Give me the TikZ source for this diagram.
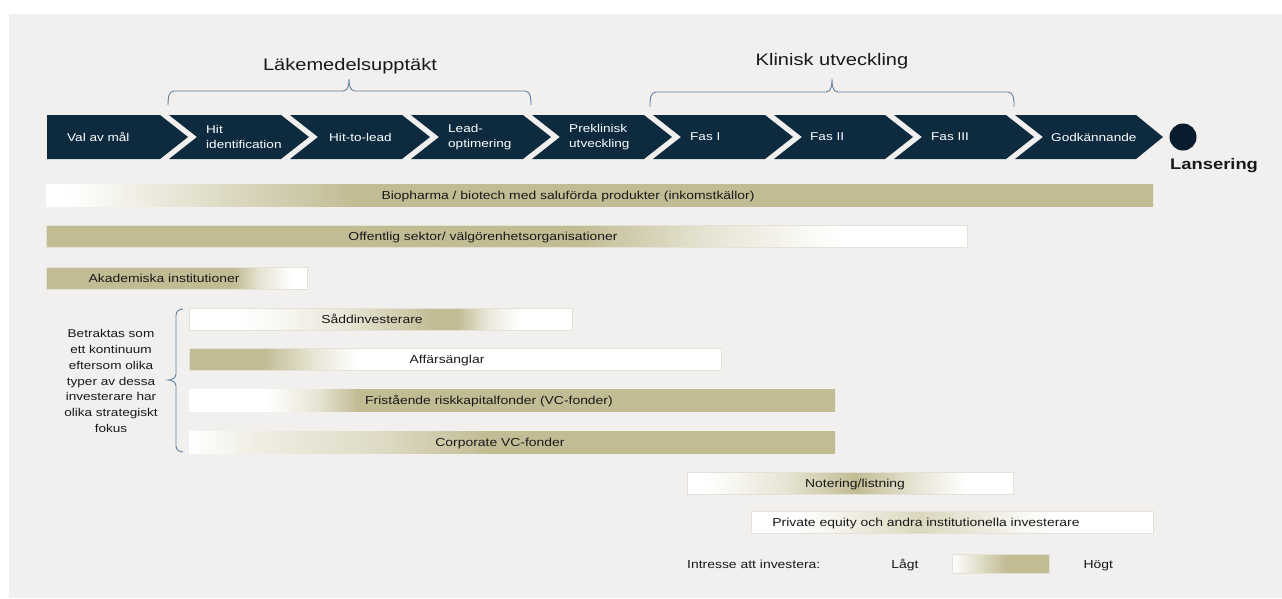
\documentclass[tikz,border=0pt]{standalone}
\usepackage{fontspec}
\setmainfont{Liberation Sans}[FakeStretch=1.2]
\usetikzlibrary{positioning}

\definecolor{panel}{RGB}{241,240,238}
\definecolor{navy}{RGB}{13,42,63}
\definecolor{navydark}{RGB}{9,28,45}
\definecolor{tan}{RGB}{194,188,148}
\definecolor{ink}{RGB}{25,25,25}
\definecolor{bracecol}{RGB}{98,128,158}
\definecolor{barline}{RGB}{228,226,214}

\pgfdeclarehorizontalshading{bioshade}{100bp}{color(0bp)=(white); color(26bp)=(white); color(31bp)=(tan!40!white); color(39bp)=(tan); color(100bp)=(tan)}
\pgfdeclarehorizontalshading{offshade}{100bp}{color(0bp)=(tan); color(54bp)=(tan); color(61bp)=(tan!40!white); color(68bp)=(white); color(100bp)=(white)}
\pgfdeclarehorizontalshading{akashade}{100bp}{color(0bp)=(tan); color(61bp)=(tan); color(66bp)=(tan!40!white); color(72bp)=(white); color(100bp)=(white)}
\pgfdeclarehorizontalshading{saddshade}{100bp}{color(0bp)=(white); color(32bp)=(white); color(45bp)=(tan!35!white); color(57bp)=(tan); color(60bp)=(tan); color(64bp)=(tan!35!white); color(68bp)=(white); color(100bp)=(white)}
\pgfdeclarehorizontalshading{affshade}{100bp}{color(0bp)=(tan); color(32bp)=(tan); color(37bp)=(tan!35!white); color(41bp)=(white); color(100bp)=(white)}
\pgfdeclarehorizontalshading{frishade}{100bp}{color(0bp)=(white); color(31bp)=(white); color(35bp)=(tan!40!white); color(38bp)=(tan); color(100bp)=(tan)}
\pgfdeclarehorizontalshading{corpshade}{100bp}{color(0bp)=(white); color(25bp)=(white); color(30bp)=(tan!25!white); color(40bp)=(tan!55!white); color(48bp)=(tan); color(100bp)=(tan)}
\pgfdeclarehorizontalshading{notshade}{100bp}{color(0bp)=(white); color(28bp)=(white); color(40bp)=(tan!40!white); color(51bp)=(tan); color(60bp)=(tan!40!white); color(68bp)=(white); color(100bp)=(white)}
\pgfdeclarehorizontalshading{peshade}{100bp}{color(0bp)=(white); color(31bp)=(white); color(46bp)=(tan!60!white); color(62bp)=(white); color(100bp)=(white)}
\pgfdeclarehorizontalshading{legshade}{100bp}{color(0bp)=(white); color(25bp)=(white); color(53bp)=(tan); color(100bp)=(tan)}

\begin{document}
\begin{tikzpicture}[x=1pt,y=-1pt,
  steplabel/.style={anchor=west,inner sep=0pt,text=white,align=left,font=\fontsize{11.3}{15}\selectfont},
  barlabel/.style={inner sep=0pt,text=ink,text height=8.5pt,text depth=2.5pt,font=\fontsize{11.6}{14}\selectfont},
  phaselabel/.style={inner sep=0pt,text=ink,font=\fontsize{16.7}{20}\selectfont},
  brace line/.style={draw=bracecol,line width=0.9pt},
  barframe/.style={draw=barline,line width=0.6pt}]
%
\useasboundingbox (0,0) rectangle (1282,598);
\fill[white] (0,0) rectangle (1282,598);
\fill[panel] (9,14) rectangle (1282,598);
%
\fill[navy] (47,115) -- (160,115) -- ++(28,22) -- (160,159) -- (47,159) -- cycle;
\fill[navy] (169,115) -- (281,115) -- ++(28,22) -- (281,159) -- (169,159) -- ++(28,-22) -- cycle;
\fill[navy] (290,115) -- (402,115) -- ++(28,22) -- (402,159) -- (290,159) -- ++(28,-22) -- cycle;
\fill[navy] (411,115) -- (523,115) -- ++(28,22) -- (523,159) -- (411,159) -- ++(28,-22) -- cycle;
\fill[navy] (532,115) -- (644,115) -- ++(28,22) -- (644,159) -- (532,159) -- ++(28,-22) -- cycle;
\fill[navy] (653,115) -- (765,115) -- ++(28,22) -- (765,159) -- (653,159) -- ++(28,-22) -- cycle;
\fill[navy] (774,115) -- (885,115) -- ++(28,22) -- (885,159) -- (774,159) -- ++(28,-22) -- cycle;
\fill[navy] (894,115) -- (1006,115) -- ++(28,22) -- (1006,159) -- (894,159) -- ++(28,-22) -- cycle;
\fill[navy] (1015,115) -- (1136,115) -- ++(27,22) -- (1136,159) -- (1015,159) -- ++(28,-22) -- cycle;
%
\node[steplabel] (val) at (67,137) {Val av mål};
\node[steplabel] (hit) at (206,137) {Hit\\identification};
\node[steplabel] (htl) at (329,137) {Hit-to-lead};
\node[steplabel] (lead) at (448,137) {Lead-\\optimering};
\node[steplabel] (prek) at (569,137) {Preklinisk\\utveckling};
\node[steplabel] (fas1) at (690,137) {Fas I};
\node[steplabel] (fas2) at (810,137) {Fas II};
\node[steplabel] (fas3) at (931,137) {Fas III};
\node[steplabel] (godk) at (1051,137) {Godkännande};
%
\node[circle,fill=navydark,minimum size=27pt,inner sep=0pt] (dot) at (1183,137) {};
\node[anchor=north west,inner sep=0pt,text=ink,font=\fontsize{15.3}{18}\selectfont\bfseries] (lans) at (1170,158) {Lansering};
%
\node[phaselabel] (disc) at (350,66) {Läkemedelsupptäkt};
\node[phaselabel] (klin) at (832,61) {Klinisk utveckling};
\draw[brace line] (168,105) to[out=90,in=180] (174,91) -- (343,91) to[out=0,in=-90] (349,79)
  to[out=-90,in=180] (355,91) -- (525,91) to[out=0,in=90] (531,105);
\draw[brace line] (650,107) to[out=90,in=180] (656,92) -- (826,92) to[out=0,in=-90] (832,79)
  to[out=-90,in=180] (838,92) -- (1008,92) to[out=0,in=90] (1014,107);
%
\shade[shading=bioshade] (46,184) rectangle (1153,206);
\node[barlabel] (bio) at (568,196) {Biopharma / biotech med saluförda produkter (inkomstkällor)};
\shade[shading=offshade,barframe] (46,225) rectangle (967,247);
\node[barlabel] (off) at (483,237) {Offentlig sektor/ välgörenhetsorganisationer};
\shade[shading=akashade,barframe] (46,267) rectangle (307,289);
\node[barlabel] (aka) at (164,279) {Akademiska institutioner};
%
\node[align=center,inner sep=0pt,text=ink,font=\fontsize{11.3}{15.7}\selectfont] (kont) at (111,381)
  {Betraktas som\\ett kontinuum\\eftersom olika\\typer av dessa\\investerare har\\olika strategiskt\\fokus};
\draw[brace line] (183,309) to[out=180,in=90] (176,315) -- (176,374) to[out=-90,in=0] (168,380)
  to[out=0,in=90] (176,386) -- (176,446) to[out=-90,in=180] (183,452);
%
\shade[shading=saddshade,barframe] (189,308) rectangle (572,330);
\node[barlabel] (sadd) at (372,320) {Såddinvesterare};
\shade[shading=affshade,barframe] (189,348) rectangle (721,370);
\node[barlabel] (aff) at (447,360) {Affärsänglar};
\shade[shading=frishade] (189,389) rectangle (835,411);
\node[barlabel] (fri) at (489,401) {Fristående riskkapitalfonder (VC-fonder)};
\shade[shading=corpshade] (189,431) rectangle (835,453);
\node[barlabel] (corp) at (500,443) {Corporate VC-fonder};
%
\shade[shading=notshade,barframe] (687,472) rectangle (1013,494);
\node[barlabel] (not) at (855,484) {Notering/listning};
\shade[shading=peshade,barframe] (751,511) rectangle (1153,533);
\node[barlabel] (pe) at (926,523) {Private equity och andra institutionella investerare};
%
\node[anchor=west,barlabel] (intr) at (687,565) {Intresse att investera:};
\node[shade,shading=legshade,barframe,minimum width=97pt,minimum height=19pt,inner sep=0pt] (legbar) at (1000.5,564) {};
\node[barlabel,left=33pt of legbar,yshift=-1.5pt] (lagt) {Lågt};
\node[barlabel,right=34pt of legbar,yshift=-1.5pt] (hogt) {Högt};
\end{tikzpicture}
\end{document}
